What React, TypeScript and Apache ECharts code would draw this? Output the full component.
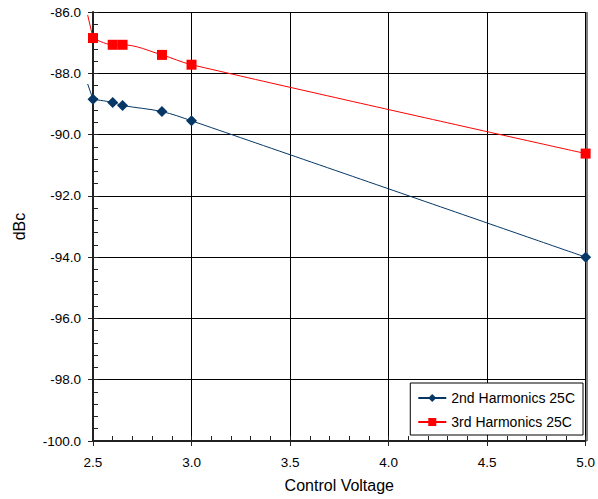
import React, { useEffect, useRef } from "react";
import * as echarts from "echarts";

const voltages = [2.5, 2.6, 2.65, 2.85, 3.0, 5.0];
const second25C = [-88.85, -88.95, -89.05, -89.25, -89.55, -94.0];
const third25C = [-86.85, -87.07, -87.07, -87.4, -87.72, -90.62];
// smoothing lead-in seen just left of the first marker
const leadVoltage = 2.473;
const leadSecond = -88.35;
const leadThird = -86.1;

const xMin = 2.5, xMax = 5.0, xStep = 0.5;
const yMin = -100, yMax = -86, yStep = 2;

const FONT = "Liberation Sans, Arial, Helvetica, sans-serif";
const BLUE = "#063766";
const RED = "#FF0000";

const pairs = (vals: number[]) => voltages.map((v, i) => [v, vals[i]]);

function leadSeries(lead: number, vals: number[], color: string) {
  return {
    type: "custom",
    clip: false,
    silent: true,
    z: 4,
    encode: { x: [0, 2], y: [1, 3] },
    data: [[leadVoltage, lead, voltages[0], vals[0]]],
    renderItem: (params: any, api: any) => {
      const a = api.coord([api.value(0), api.value(1)]);
      const b = api.coord([api.value(2), api.value(3)]);
      return {
        type: "line",
        shape: { x1: a[0], y1: a[1], x2: b[0], y2: b[1] },
        style: { stroke: color, lineWidth: 1 },
      };
    },
  };
}

export default function App() {
  const ref = useRef<HTMLDivElement>(null);
  useEffect(() => {
    document.body.style.margin = "0";
    if (!ref.current) return;
    const chart = echarts.init(ref.current, null, { renderer: "svg" });
    const axisText = { color: "#000", fontFamily: FONT, fontSize: 13.5 };
    chart.setOption({
      animation: false,
      backgroundColor: "#fff",
      grid: { left: 93, right: 11, top: 12, bottom: 58, containLabel: false },
      legend: {
        orient: "vertical",
        right: 15,
        bottom: 64,
        backgroundColor: "#fff",
        borderColor: "#000",
        borderWidth: 1,
        borderRadius: 0,
        padding: [8, 8, 6, 7],
        itemGap: 10,
        itemWidth: 28,
        itemHeight: 10,
        textStyle: { color: "#000", fontFamily: FONT, fontSize: 14 },
        data: ["2nd Harmonics 25C", "3rd Harmonics 25C"],
      },
      xAxis: [
        {
          type: "value",
          min: xMin,
          max: xMax,
          interval: xStep,
          name: "Control Voltage",
          nameLocation: "middle",
          nameGap: 36,
          nameTextStyle: { color: "#000", fontFamily: FONT, fontSize: 16 },
          axisLine: { show: true, onZero: false, lineStyle: { color: "#222", width: 2 } },
          axisTick: { show: true, inside: true, length: 5, lineStyle: { color: "#222" } },
          minorTick: { show: true, splitNumber: 5, length: 5, lineStyle: { color: "#222" } },
          axisLabel: { ...axisText, margin: 14, formatter: (v: number) => v.toFixed(1) },
          splitLine: { show: true, lineStyle: { color: "#000", width: 1 } },
          z: 1,
        },
        {
          type: "value",
          min: xMin,
          max: xMax,
          interval: xStep,
          position: "bottom",
          axisLine: { show: false },
          axisTick: { show: true, inside: false, length: 5, lineStyle: { color: "#222" } },
          axisLabel: { show: false },
          splitLine: { show: false },
          z: 1,
        },
      ],
      yAxis: [
        {
          type: "value",
          min: yMin,
          max: yMax,
          interval: yStep,
          name: "dBc",
          nameLocation: "middle",
          nameGap: 66,
          nameRotate: 90,
          nameTextStyle: { color: "#000", fontFamily: FONT, fontSize: 16 },
          axisLine: { show: true, onZero: false, lineStyle: { color: "#222", width: 2 } },
          axisTick: { show: true, inside: true, length: 5, lineStyle: { color: "#222" } },
          minorTick: { show: true, splitNumber: 5, length: 5, lineStyle: { color: "#222" } },
          axisLabel: { ...axisText, margin: 12, formatter: (v: number) => v.toFixed(1) },
          splitLine: { show: true, lineStyle: { color: "#000", width: 1 } },
          z: 1,
        },
        {
          type: "value",
          min: yMin,
          max: yMax,
          interval: yStep,
          position: "left",
          axisLine: { show: false },
          axisTick: { show: true, inside: false, length: 5, lineStyle: { color: "#222" } },
          axisLabel: { show: false },
          splitLine: { show: false },
          z: 1,
        },
      ],
      series: [
        leadSeries(leadSecond, second25C, BLUE),
        leadSeries(leadThird, third25C, RED),
        {
          name: "2nd Harmonics 25C",
          type: "line",
          smooth: 0.35,
          data: pairs(second25C),
          symbol: "diamond",
          symbolSize: 11,
          showAllSymbol: true,
          itemStyle: { color: BLUE },
          lineStyle: { color: BLUE, width: 1 },
          z: 5,
        },
        {
          name: "3rd Harmonics 25C",
          type: "line",
          smooth: 0.35,
          data: pairs(third25C),
          symbol: "rect",
          symbolSize: 10,
          showAllSymbol: true,
          itemStyle: { color: RED },
          lineStyle: { color: RED, width: 1 },
          z: 5,
        },
      ],
      graphic: [
        {
          type: "line",
          shape: { x1: 587, y1: 12, x2: 587, y2: 441 },
          style: { stroke: "#000", lineWidth: 1 },
          z: 1,
        },
      ],
    });
    return () => chart.dispose();
  }, []);
  return <div ref={ref} style={{ width: 598, height: 499 }} />;
}
